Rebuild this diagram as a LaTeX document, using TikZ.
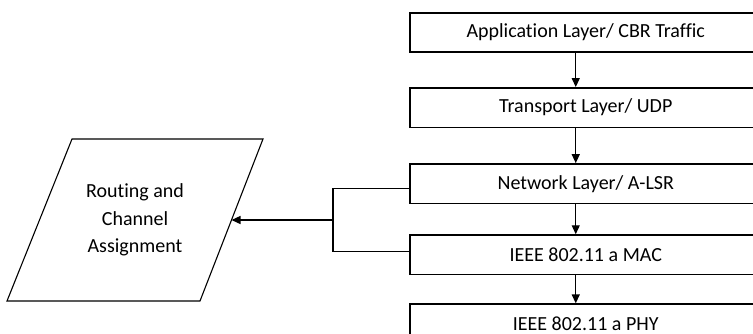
\documentclass[tikz,border=0pt]{standalone}
\usepackage{fontspec}
\setmainfont[Ligatures=NoCommon]{Carlito}
\usetikzlibrary{positioning,arrows.meta}

\begin{document}
\begin{tikzpicture}[
	  x=1pt, y=-1pt,
	    font=\fontsize{20}{27.7}\selectfont,
	      >={Triangle[length=9pt,width=8pt]},
	        layer/.style={draw, line width=1.6pt, minimum width=352pt, minimum height=39.5pt, inner sep=0pt},
	          route/.style={line width=1.1pt, line join=miter},
	            link/.style={->, line width=1.3pt},
	              wire/.style={line width=1.3pt}
	              ]
	              \clip (0,0) rectangle (753,333);
	              % Protocol stack
	              \node[layer] (app) at (585.75,32.5) {Application Layer/ CBR Traffic};
	              \node[layer, below=34pt of app] (tra) {Transport Layer/ UDP};
	              \node[layer, below=35pt of tra] (net) {Network Layer/ A-LSR};
	              \node[layer, below=30pt of net] (mac) {IEEE 802.11 a MAC};
	              \node[layer, below=28pt of mac] (phy) {IEEE 802.11 a PHY};
	              % Routing block
	              \node[align=center] (ra) at (135,220) {Routing and\\Channel\\Assignment};
	              \coordinate (ra-bl) at (7,301);
	              \coordinate (ra-tl) at (72,139);
	              \coordinate (ra-tr) at (263,139);
	              \coordinate (ra-br) at (200,301);
	              \coordinate (ra-in) at (231.5,220);
	              \draw[route] (ra-bl) -- (ra-tl) -- (ra-tr) -- (ra-br) -- cycle;
	              \coordinate (jn) at (333,220);

	              % edges
	              \draw[link] ([xshift=-10pt]app.south) -- ([xshift=-10pt]tra.north);
	              \draw[link] ([xshift=-10pt]tra.south) -- ([xshift=-10pt]net.north);
	              \draw[link] ([xshift=-10pt]net.south) -- ([xshift=-10pt]mac.north);
	              \draw[link] ([xshift=-10pt]mac.south) -- ([xshift=-10pt]phy.north);
	              \draw[wire] ([yshift=-4.5pt]net.west) -| (jn) |- ([yshift=3pt]mac.west);
	              \draw[link] (jn) -- (ra-in);
	              \end{tikzpicture}
\end{document}
